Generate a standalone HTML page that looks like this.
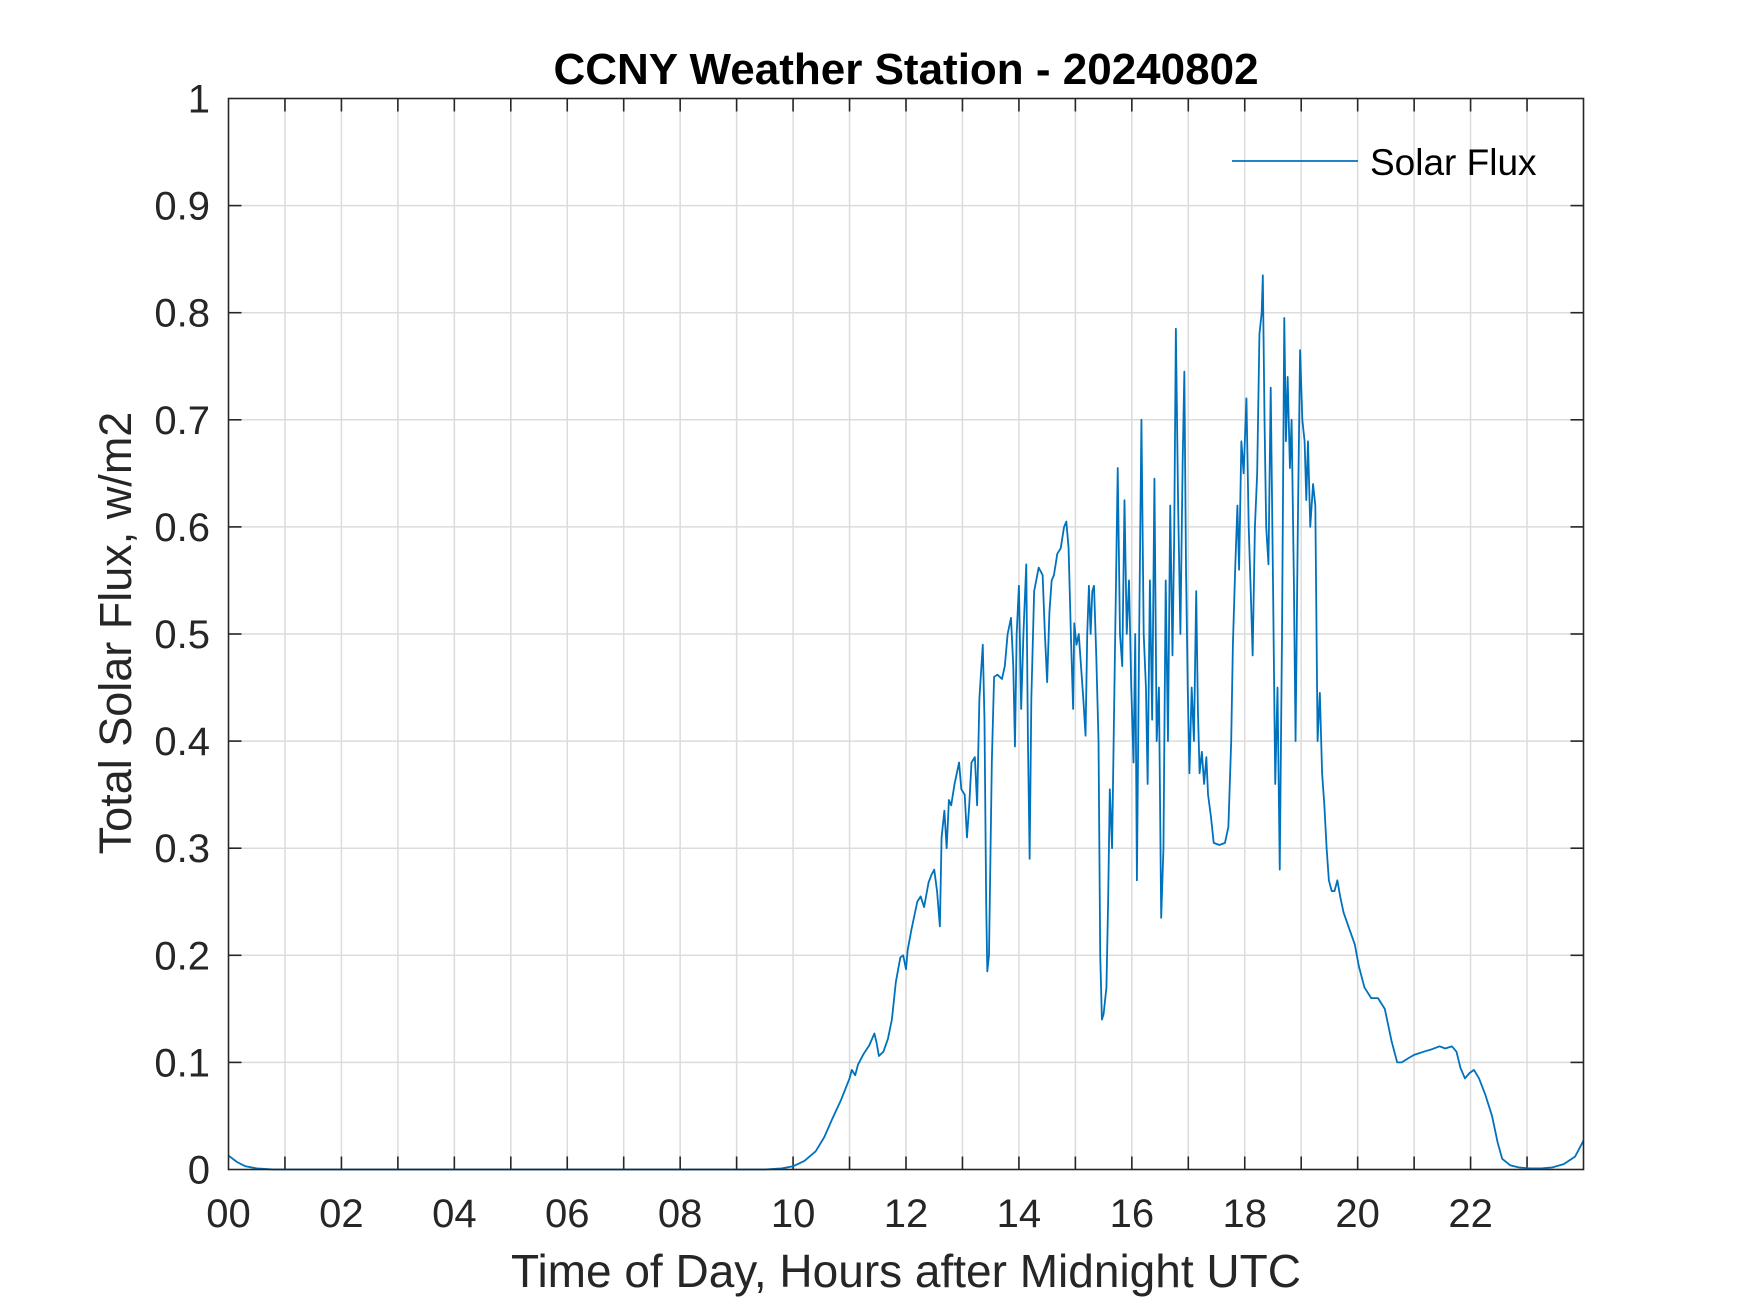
<!DOCTYPE html>
<html>
<head>
<meta charset="utf-8">
<style>
  html,body{margin:0;padding:0;background:#fff;}
  svg{display:block;font-family:"Liberation Sans",Arial,sans-serif;}
</style>
</head>
<body>
<svg id="chart" width="1750" height="1313" viewBox="0 0 1750 1313" xmlns="http://www.w3.org/2000/svg">
  <rect x="0" y="0" width="1750" height="1313" fill="#ffffff"/>
  <g id="grid"></g>
  <g id="ticks"></g>
  <path id="series" fill="none" stroke="#0072BD" stroke-width="1.8" stroke-linejoin="round"/>
  <rect x="228.5" y="98.5" width="1355" height="1071" fill="none" stroke="#262626" stroke-width="1.6"/>
  <g id="xlabels" font-size="40" fill="#262626" text-anchor="middle"></g>
  <g id="ylabels" font-size="40" fill="#262626" text-anchor="end"></g>
  <text x="906" y="84" font-size="44" font-weight="bold" text-anchor="middle" fill="#000">CCNY Weather Station - 20240802</text>
  <text x="906" y="1287" font-size="46" text-anchor="middle" fill="#262626">Time of Day, Hours after Midnight UTC</text>
  <text x="0" y="0" font-size="45" text-anchor="middle" fill="#262626" transform="translate(131,633) rotate(-90)">Total Solar Flux, w/m2</text>
  <g>
    <line x1="1232" y1="161" x2="1358" y2="161" stroke="#0072BD" stroke-width="1.8"/>
    <text x="1370" y="175" font-size="37" fill="#000">Solar Flux</text>
  </g>
</svg>
<script>
const hours = [
0,0.15,0.3,0.5,0.8,2,4,6,8,9.5,
9.8,10.0,10.2,10.4,10.55,10.7,10.85,11.0,11.04,11.1,
11.15,11.25,11.35,11.44,11.48,11.52,11.6,11.68,11.75,11.82,
11.9,11.95,12.0,12.03,12.1,12.2,12.26,12.32,12.4,12.45,
12.5,12.55,12.6,12.63,12.68,12.72,12.76,12.8,12.86,12.94,
12.98,13.04,13.08,13.12,13.16,13.22,13.26,13.3,13.36,13.39,
13.42,13.44,13.47,13.52,13.56,13.62,13.7,13.75,13.8,13.86,
13.9,13.93,13.96,14.0,14.04,14.08,14.13,14.16,14.19,14.22,
14.27,14.35,14.42,14.46,14.5,14.54,14.58,14.62,14.68,14.74,
14.8,14.84,14.88,14.92,14.96,14.98,15.02,15.06,15.1,15.14,
15.18,15.21,15.24,15.27,15.3,15.33,15.37,15.41,15.44,15.47,
15.5,15.55,15.58,15.61,15.65,15.7,15.75,15.79,15.83,15.87,
15.91,15.95,15.99,16.03,16.06,16.09,16.13,16.17,16.21,16.25,
16.28,16.32,16.36,16.4,16.44,16.48,16.52,16.56,16.6,16.64,
16.68,16.72,16.75,16.78,16.82,16.86,16.9,16.93,16.96,16.99,
17.02,17.06,17.1,17.14,17.17,17.2,17.24,17.28,17.32,17.35,
17.4,17.45,17.55,17.65,17.71,17.76,17.79,17.83,17.87,17.9,
17.94,17.98,18.03,18.07,18.1,18.14,18.18,18.22,18.26,18.3,
18.32,18.35,18.38,18.42,18.46,18.5,18.54,18.58,18.62,18.66,
18.7,18.73,18.76,18.8,18.83,18.87,18.9,18.94,18.98,19.02,
19.06,19.09,19.12,19.16,19.21,19.25,19.29,19.33,19.37,19.41,
19.45,19.49,19.54,19.59,19.64,19.69,19.75,19.85,19.95,20.02,
20.12,20.24,20.36,20.48,20.6,20.7,20.78,20.9,21.0,21.17,
21.3,21.45,21.55,21.67,21.75,21.82,21.9,21.98,22.06,22.15,
22.26,22.38,22.48,22.56,22.7,22.85,23.05,23.25,23.45,23.65,
23.85,24];
const flux = [
0.013,0.007,0.003,0.001,0,0,0,0,0,0,
0.001,0.003,0.008,0.017,0.03,0.048,0.065,0.085,0.093,0.088,
0.098,0.108,0.116,0.127,0.118,0.106,0.11,0.122,0.14,0.175,
0.198,0.2,0.187,0.205,0.225,0.25,0.255,0.245,0.268,0.275,
0.28,0.26,0.227,0.31,0.335,0.3,0.345,0.34,0.36,0.38,
0.355,0.35,0.31,0.34,0.38,0.385,0.34,0.44,0.49,0.42,
0.25,0.185,0.2,0.38,0.46,0.462,0.458,0.47,0.5,0.515,
0.47,0.395,0.5,0.545,0.43,0.5,0.565,0.4,0.29,0.44,
0.54,0.562,0.555,0.5,0.455,0.52,0.55,0.555,0.575,0.58,
0.6,0.605,0.58,0.5,0.43,0.51,0.49,0.5,0.47,0.44,
0.405,0.5,0.545,0.5,0.54,0.545,0.48,0.4,0.2,0.14,
0.145,0.17,0.25,0.355,0.3,0.48,0.655,0.5,0.47,0.625,
0.5,0.55,0.45,0.38,0.5,0.27,0.5,0.7,0.5,0.45,
0.36,0.55,0.42,0.645,0.4,0.45,0.235,0.3,0.55,0.4,
0.62,0.48,0.59,0.785,0.62,0.5,0.66,0.745,0.56,0.45,
0.37,0.45,0.4,0.54,0.43,0.37,0.39,0.36,0.385,0.35,
0.33,0.305,0.303,0.305,0.32,0.4,0.49,0.56,0.62,0.56,
0.68,0.65,0.72,0.6,0.55,0.48,0.6,0.65,0.78,0.8,
0.835,0.7,0.6,0.565,0.73,0.55,0.36,0.45,0.28,0.5,
0.795,0.68,0.74,0.655,0.7,0.55,0.4,0.6,0.765,0.7,
0.68,0.625,0.68,0.6,0.64,0.62,0.4,0.445,0.37,0.34,
0.3,0.27,0.26,0.26,0.27,0.255,0.24,0.225,0.21,0.19,
0.17,0.16,0.16,0.15,0.12,0.1,0.1,0.104,0.107,0.11,
0.112,0.115,0.113,0.115,0.11,0.095,0.085,0.09,0.093,0.085,
0.07,0.05,0.025,0.01,0.004,0.002,0.001,0.001,0.002,0.005,
0.012,0.027];
const xTickValues = [0,2,4,6,8,10,12,14,16,18,20,22];
const xTickLabels = ["00","02","04","06","08","10","12","14","16","18","20","22"];
const yTickValues = [0,0.1,0.2,0.3,0.4,0.5,0.6,0.7,0.8,0.9,1];
const yTickLabels = ["0","0.1","0.2","0.3","0.4","0.5","0.6","0.7","0.8","0.9","1"];

const X0 = 228.5, X1 = 1583.5, Y0 = 1169.5, Y1 = 98.5;
function xs(h){ return X0 + (h/24)*(X1-X0); }
function ys(v){ return Y0 - v*(Y0-Y1); }
const NS = "http://www.w3.org/2000/svg";
const grid = document.getElementById('grid');
const ticks = document.getElementById('ticks');
const xl = document.getElementById('xlabels');
const yl = document.getElementById('ylabels');

for (let h = 1; h < 24; h++) {
  const x = xs(h);
  const g = document.createElementNS(NS,'line');
  
  
  g.setAttribute('x1',x); g.setAttribute('x2',x); g.setAttribute('y1',Y1); g.setAttribute('y2',Y0);
  g.setAttribute('stroke','#dcdcdc'); g.setAttribute('stroke-width','1.5');
  grid.appendChild(g);
  [[Y0, Y0-13],[Y1, Y1+13]].forEach(p => {
    const t = document.createElementNS(NS,'line');
    
    
    t.setAttribute('x1',x); t.setAttribute('x2',x); t.setAttribute('y1',p[0]); t.setAttribute('y2',p[1]);
    t.setAttribute('stroke','#262626'); t.setAttribute('stroke-width','1.6');
    ticks.appendChild(t);
  });
}
xTickValues.forEach((v,i) => {
  const t = document.createElementNS(NS,'text');
  
  
  t.setAttribute('x', xs(v)); t.setAttribute('y', 1227);
  t.textContent = xTickLabels[i];
  xl.appendChild(t);
});
yTickValues.forEach((v,i) => {
  const y = ys(v);
  if (v > 0 && v < 1) {
    const g = document.createElementNS(NS,'line');
    
    
    g.setAttribute('x1',X0); g.setAttribute('x2',X1); g.setAttribute('y1',y); g.setAttribute('y2',y);
    g.setAttribute('stroke','#dcdcdc'); g.setAttribute('stroke-width','1.5');
    grid.appendChild(g);
    [[X0, X0+13],[X1, X1-13]].forEach(p => {
      const t = document.createElementNS(NS,'line');
      
      
      t.setAttribute('x1',p[0]); t.setAttribute('x2',p[1]); t.setAttribute('y1',y); t.setAttribute('y2',y);
      t.setAttribute('stroke','#262626'); t.setAttribute('stroke-width','1.6');
      ticks.appendChild(t);
    });
  }
  const t = document.createElementNS(NS,'text');
  
  
  t.setAttribute('x', 210); t.setAttribute('y', y + 14);
  t.textContent = yTickLabels[i];
  yl.appendChild(t);
});
let d = '';
const n = Math.min(hours.length, flux.length);
for (let i = 0; i < n; i++) {
  d += (i ? 'L' : 'M') + xs(hours[i]).toFixed(2) + ' ' + ys(flux[i]).toFixed(2) + ' ';
}
document.getElementById('series').setAttribute('d', d);
</script>
</body>
</html>
